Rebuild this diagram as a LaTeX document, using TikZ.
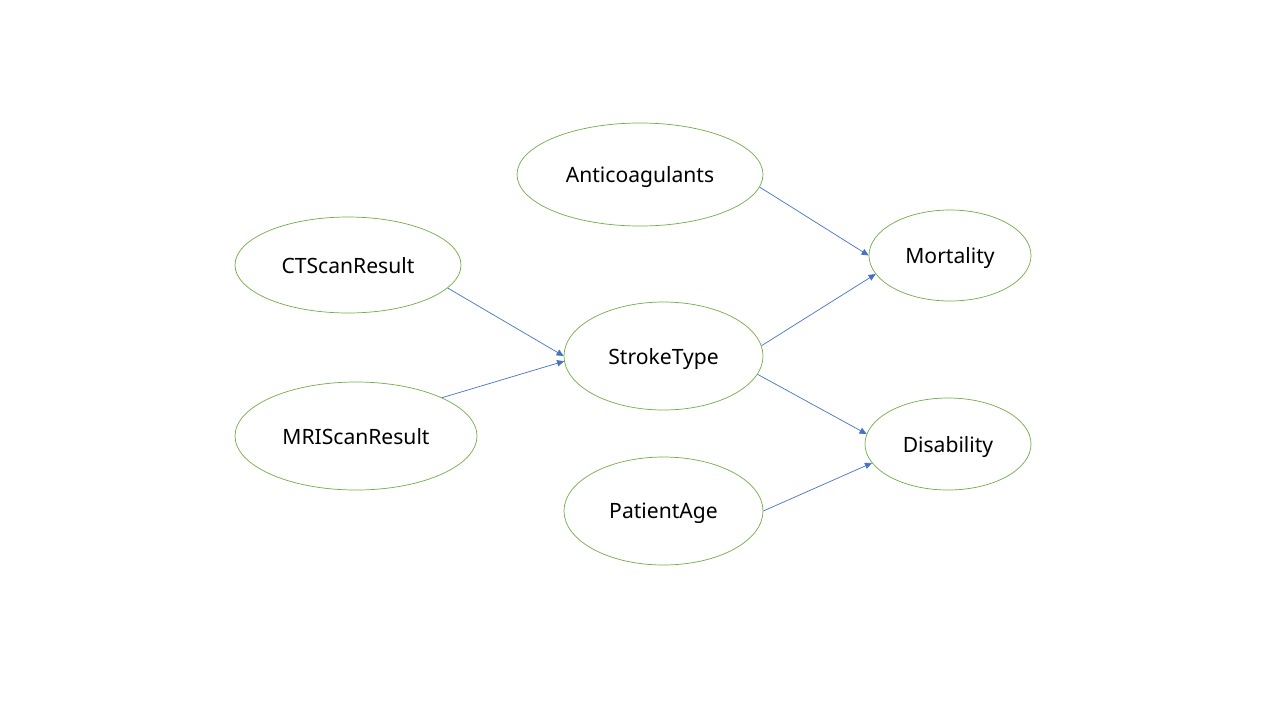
\documentclass[tikz,border=0pt]{standalone}
\usepackage{fontspec}
\setmainfont{Noto Sans}
\usetikzlibrary{shapes.geometric,arrows.meta}
\definecolor{nodegreen}{HTML}{70AD47}
\definecolor{edgeblue}{HTML}{4472C4}

\begin{document}
\begin{tikzpicture}
  [x=0.25mm,y=-0.25mm,
    every node/.style={ellipse,draw=nodegreen,line width=0.5pt,inner sep=0pt,
      text depth=0pt,font=\fontsize{15}{18}\selectfont},
    edge/.style={draw=edgeblue,line width=0.5pt,-{Triangle[length=5pt,width=4.5pt]}},
]
  \useasboundingbox (0,0) rectangle (1280,720);
  \node[minimum width=246*0.25mm,minimum height=103*0.25mm] (anti) at (640,174.5) {Anticoagulants};
  \node[minimum width=226*0.25mm,minimum height=96*0.25mm] (ct) at (348,265) {CTScanResult};
  \node[minimum width=242*0.25mm,minimum height=108*0.25mm] (mri) at (356,436) {MRIScanResult};
  \node[minimum width=199*0.25mm,minimum height=108*0.25mm] (stroke) at (663.5,356) {StrokeType};
  \node[minimum width=199*0.25mm,minimum height=108*0.25mm] (age) at (663.5,511) {PatientAge};
  \node[minimum width=162*0.25mm,minimum height=91*0.25mm] (mort) at (950,255.5) {Mortality};
  \node[minimum width=166*0.25mm,minimum height=92*0.25mm] (dis) at (948,444) {Disability};

  \draw[edge] (anti.-6) -- (mort.180);
  \draw[edge] (ct.-13) -- (stroke.180);
  \draw[edge] (mri.24) -- (stroke.183);
  \draw[edge] (stroke.6) -- (mort.194);
  \draw[edge] (stroke.-11) -- (dis.173);
  \draw[edge] (age.0) -- (dis.194);
\end{tikzpicture}
\end{document}
